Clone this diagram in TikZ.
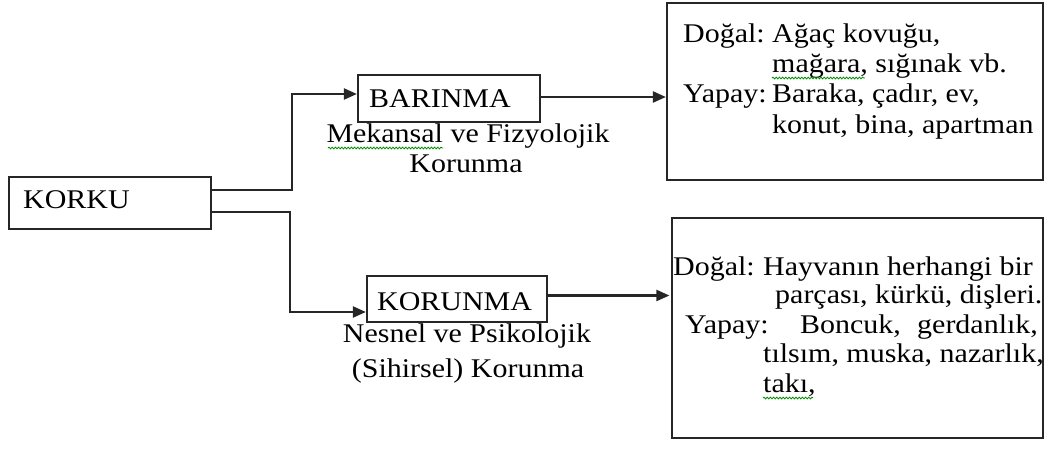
\documentclass[tikz,border=0pt]{standalone}
\usepackage{fontspec}
\setmainfont{Liberation Serif}[FakeStretch=1.11]
\usetikzlibrary{arrows.meta,decorations.pathmorphing}
\tikzset{
  boxnode/.style={draw=black!85, line width=2.2pt, inner sep=0pt, fill=white},
  txt/.style={inner sep=0pt, font=\fontsize{27}{30}\selectfont, text=black},
  arr/.style={draw=black!85, line width=2.2pt, -{Triangle[length=13pt,width=11pt]}},
  squig/.style={draw=green!55!black, line width=0.8pt, decorate, decoration={snake, segment length=3.2pt, amplitude=0.9pt}}
}
\begin{document}
\begin{tikzpicture}[x=1pt,y=-1pt]
\useasboundingbox (0,0) rectangle (1046,450);
% boxes
\node[boxnode, minimum width=202pt, minimum height=52pt] (korku) at (110,203) {};
\node[boxnode, minimum width=182pt, minimum height=47pt] (barinma) at (449,98.5) {};
\node[boxnode, minimum width=180pt, minimum height=46pt] (korunma) at (457,299) {};
\node[boxnode, minimum width=376pt, minimum height=177pt] (box1) at (855,91.5) {};
\node[boxnode, minimum width=371pt, minimum height=220pt] (box2) at (857.5,328) {};
% connectors
\draw[arr] ([yshift=13pt]korku.east) -- ++(80,0) |- ([yshift=4.5pt]barinma.west);
\draw[arr] ([yshift=-9pt]korku.east) -- ++(78,0) |- ([yshift=-13pt]korunma.west);
\draw[arr] ([yshift=1.5pt]barinma.east) -- ([yshift=1.5pt]barinma.east -| box1.west);
\draw[arr, shorten >=1.5pt] ([yshift=3.5pt]korunma.east) -- ([yshift=3.5pt]korunma.east -| box2.west);
% box labels
\node[txt, anchor=base west] (tkorku) at (23,208) {KORKU};
\node[txt, anchor=base west] (tbarinma) at (369,107) {BARINMA};
\node[txt, anchor=base west] (tkorunma) at (377,310) {KORUNMA};
% captions
\node[txt, anchor=base] (mek) at (468,142) {Mekansal ve Fizyolojik};
\node[txt, anchor=base] (kor1) at (466,172) {Korunma};
\node[txt, anchor=base] (nes) at (467,342) {Nesnel ve Psikolojik};
\node[txt, anchor=base] (sih) at (468,377) {(Sihirsel) Korunma};
% box1 text
\node[txt, anchor=base west] (d1) at (683,42) {Doğal:};
\node[txt, anchor=base west] (d1a) at (772,42) {Ağaç kovuğu,};
\node[txt, anchor=base west] (d1b) at (772,72) {mağara, sığınak vb.};
\node[txt, anchor=base west] (y1) at (683,102) {Yapay:};
\node[txt, anchor=base west] (y1a) at (772,102) {Baraka, çadır, ev,};
\node[txt, anchor=base west] (y1b) at (772,133) {konut, bina, apartman};
% box2 text
\node[txt, anchor=base west] (d2) at (673,275) {Doğal:};
\node[txt, anchor=base west] (d2a) at (763,275) {Hayvanın herhangi bir};
\node[txt, anchor=base west] (d2b) at (775,303) {parçası, kürkü, dişleri.};
\node[txt, anchor=base west] (y2) at (685,333) {Yapay:};
\node[txt, anchor=base west] (y2a) at (800,333) {Boncuk,};
\node[txt, anchor=base west] (y2b) at (917,333) {gerdanlık,};
\node[txt, anchor=base west] (y2c) at (763,362) {tılsım, muska, nazarlık,};
\node[txt, anchor=base west] (y2d) at (763,392) {takı,};
% spell-check marks
\draw[squig] (328,148) -- (443,148);
\draw[squig] (772,78) -- (865,78);
\draw[squig] (763,398) -- (813,398);
\end{tikzpicture}
\end{document}
